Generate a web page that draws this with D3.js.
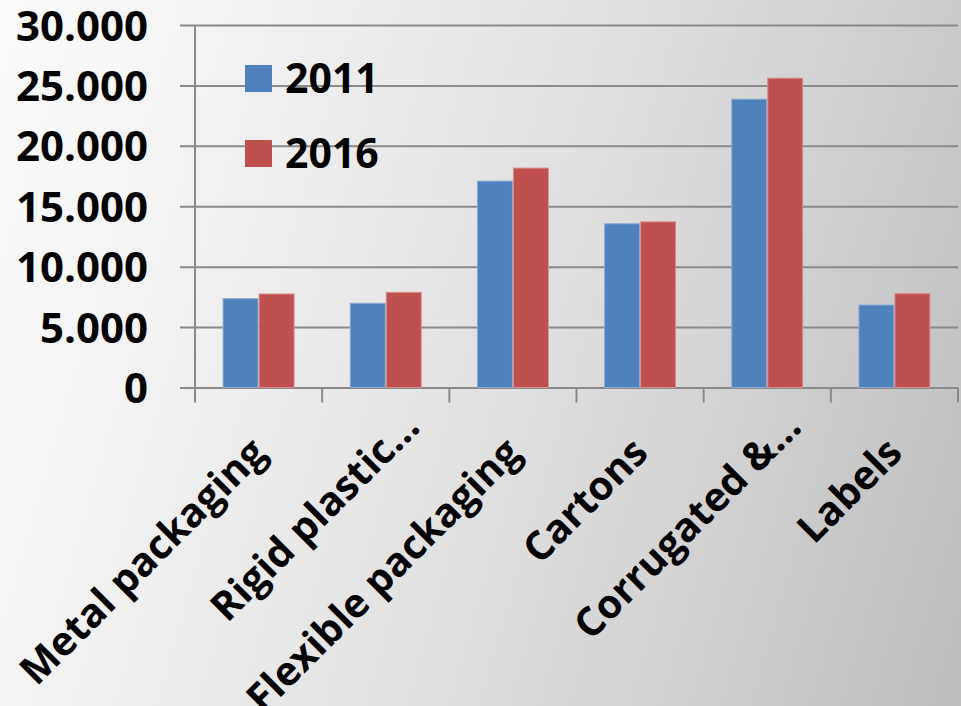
<!DOCTYPE html>
<html>
<head>
<meta charset="utf-8">
<script src="https://cdn.jsdelivr.net/npm/d3@7"></script>
<style>
  html, body { margin: 0; padding: 0; background: #ffffff; }
  svg { display: block; }
  text { font-family: "Open Sans", "Liberation Sans", sans-serif; font-weight: 700; fill: #000; }
</style>
</head>
<body>
<svg id="chart" width="961" height="706"></svg>
<script>
// Packaging market volumes by segment
const categories = ["Metal packaging", "Rigid plastic…", "Flexible packaging", "Cartons", "Corrugated &…", "Labels"];
const seriesNames = ["2011", "2016"];
const values2011 = [7350, 6970, 17080, 13550, 23860, 6830];
const values2016 = [7740, 7880, 18160, 13710, 25600, 7770];
const yTicks = [0, 5000, 10000, 15000, 20000, 25000, 30000];
const colors = ["#4f81bd", "#c0504d"];
const edgeColors = ["#8eabd6", "#d9908e"];

const W = 961, H = 706;
const plot = { left: 195, right: 958, top: 25, bottom: 387.5 };

const svg = d3.select("#chart");

// background wash
const defs = svg.append("defs");
const grad = defs.append("linearGradient")
  .attr("id", "bg")
  .attr("gradientUnits", "userSpaceOnUse")
  .attr("x1", 0).attr("y1", 0).attr("x2", 1075).attr("y2", 310);
grad.append("stop").attr("offset", 0).attr("stop-color", "#fcfcfc");
grad.append("stop").attr("offset", 0.2).attr("stop-color", "#f3f3f3");
grad.append("stop").attr("offset", 0.56).attr("stop-color", "#dfdfdf");
grad.append("stop").attr("offset", 1).attr("stop-color", "#bdbdbd");
svg.append("rect").attr("width", W).attr("height", H).attr("fill", "url(#bg)");

const y = d3.scaleLinear().domain([0, 30000]).range([plot.bottom, plot.top]);
const x = d3.scaleBand().domain(categories).range([plot.left, plot.right])
  .paddingInner(0.434).paddingOuter(0.217);
const xs = d3.scaleBand().domain(seriesNames).range([0, x.bandwidth()]);

const fmt = d => d === 0 ? "0" : d3.format(",")(d).replace(/,/g, ".");

// value axis with gridlines
const gridLeft = 180;
const yAxis = svg.append("g")
  .attr("transform", `translate(${gridLeft},0)`)
  .call(d3.axisLeft(y).tickValues(yTicks).tickFormat(fmt)
    .tickSize(-(plot.right - gridLeft)).tickPadding(32));
yAxis.select(".domain").remove();
yAxis.selectAll(".tick line").attr("stroke", "#8a8a8a").attr("stroke-width", 2);
yAxis.selectAll(".tick text")
  .attr("font-size", 42)
  .attr("dy", "0.36em")
  .attr("fill", "#000");

// vertical axis line
svg.append("line")
  .attr("x1", plot.left).attr("x2", plot.left)
  .attr("y1", plot.top).attr("y2", plot.bottom)
  .attr("stroke", "#8a8a8a").attr("stroke-width", 2);

// category boundary ticks
const step = x.step();
const boundaries = d3.range(categories.length + 1).map(i => plot.left + i * step);
svg.append("g").selectAll("line").data(boundaries).join("line")
  .attr("x1", d => d).attr("x2", d => d)
  .attr("y1", plot.bottom).attr("y2", plot.bottom + 15)
  .attr("stroke", "#8a8a8a").attr("stroke-width", 2);

// bars
const rows = categories.map((c, i) => ({ cat: c, vals: [values2011[i], values2016[i]] }));
const groups = svg.append("g").selectAll("g").data(rows).join("g")
  .attr("transform", d => `translate(${x(d.cat)},0)`);
groups.selectAll("rect")
  .data(d => d.vals.map((v, j) => ({ v, j })))
  .join("rect")
  .attr("x", d => xs(seriesNames[d.j]) + 0.5)
  .attr("width", xs.bandwidth() - 1)
  .attr("y", d => y(d.v))
  .attr("height", d => y(0) - y(d.v))
  .attr("fill", d => colors[d.j])
  .attr("stroke", d => edgeColors[d.j])
  .attr("stroke-width", 1);

// category labels, rotated; shortened names run a little further out
svg.append("g").selectAll("text").data(categories).join("text")
  .attr("transform", d => {
    const cx = x(d) + x.bandwidth() / 2;
    const trunc = d.endsWith("…") ? 26 : 0;
    return `translate(${cx + 10 + trunc},${455 - trunc}) rotate(-45)`;
  })
  .attr("text-anchor", "end")
  .attr("font-size", 40)
  .text(d => d);

// legend
const legend = svg.append("g").attr("transform", "translate(245,65)");
const li = legend.selectAll("g").data(seriesNames).join("g")
  .attr("transform", (d, i) => `translate(0,${i * 75})`);
li.append("rect").attr("width", 27).attr("height", 27).attr("fill", (d, i) => colors[i]);
li.append("text").attr("x", 40).attr("y", 28).attr("font-size", 41).text(d => d);
</script>
</body>
</html>
